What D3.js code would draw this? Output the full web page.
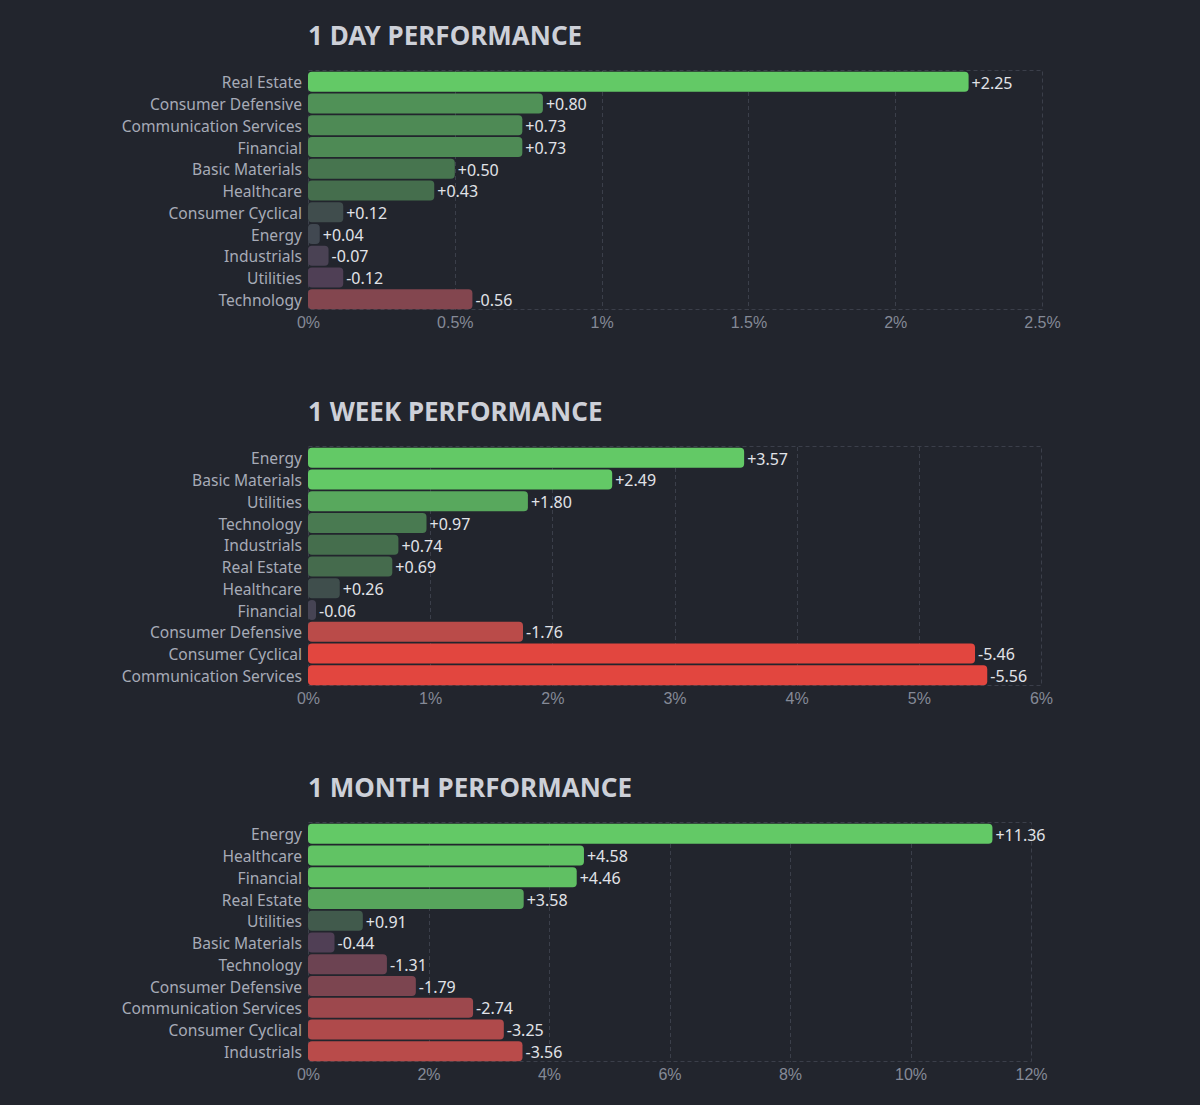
<!DOCTYPE html>
<html>
<head>
<meta charset="utf-8">
<script src="https://cdn.jsdelivr.net/npm/d3@7"></script>
<style>
  html, body { margin: 0; padding: 0; background: #22252d; }
  svg { display: block; font-family: "Noto Sans", sans-serif; }
  .title { fill: #cdd0d8; font-size: 26px; font-weight: 700; }
  .cat { fill: #a7abb7; font-size: 15.6px; }
  .val { fill: #e1e3e8; font-size: 16px; }
  .tick text { fill: #858a97; font-size: 16px; }
  .grid { stroke: #3b3f4a; stroke-width: 1; stroke-dasharray: 4 3; fill: none; }
</style>
</head>
<body>
<div id="chart"></div>
<script>
// 1 day
const dayCategories = ["Real Estate", "Consumer Defensive", "Communication Services", "Financial",
  "Basic Materials", "Healthcare", "Consumer Cyclical", "Energy", "Industrials", "Utilities", "Technology"];
const dayValues = [2.25, 0.80, 0.73, 0.73, 0.50, 0.43, 0.12, 0.04, -0.07, -0.12, -0.56];
const dayTicks = [0, 0.5, 1, 1.5, 2, 2.5];

// 1 week
const weekCategories = ["Energy", "Basic Materials", "Utilities", "Technology", "Industrials",
  "Real Estate", "Healthcare", "Financial", "Consumer Defensive", "Consumer Cyclical", "Communication Services"];
const weekValues = [3.57, 2.49, 1.80, 0.97, 0.74, 0.69, 0.26, -0.06, -1.76, -5.46, -5.56];
const weekTicks = [0, 1, 2, 3, 4, 5, 6];

// 1 month
const monthCategories = ["Energy", "Healthcare", "Financial", "Real Estate", "Utilities",
  "Basic Materials", "Technology", "Consumer Defensive", "Communication Services", "Consumer Cyclical", "Industrials"];
const monthValues = [11.36, 4.58, 4.46, 3.58, 0.91, -0.44, -1.31, -1.79, -2.74, -3.25, -3.56];
const monthTicks = [0, 2, 4, 6, 8, 10, 12];

const charts = [
  { title: "1 DAY PERFORMANCE", cats: dayCategories, vals: dayValues, ticks: dayTicks, top: 0, right: 1042, colorExtent: 3.2 },
  { title: "1 WEEK PERFORMANCE", cats: weekCategories, vals: weekValues, ticks: weekTicks, top: 376, right: 1041, colorExtent: 5.56 },
  { title: "1 MONTH PERFORMANCE", cats: monthCategories, vals: monthValues, ticks: monthTicks, top: 752, right: 1031, colorExtent: 11.36 }
];

const W = 1200, H = 1105;
const left = 308;

// colour by value relative to each chart's extent
const color = d3.scaleLinear()
  .domain([-0.42, -0.31, -0.16, -0.04, 0, 0.05, 0.13, 0.3, 0.42])
  .range(["#e2463f", "#b84b4a", "#7d4550", "#503f55", "#424653", "#3f4f4b", "#456d4d", "#55a05b", "#63c966"])
  .clamp(true);

const fmtVal = v => (v >= 0 ? "+" : "-") + Math.abs(v).toFixed(2);

const svg = d3.select("#chart").append("svg")
  .attr("width", W)
  .attr("height", H);

charts.forEach(c => {
  const g = svg.append("g").attr("transform", `translate(0,${c.top})`);
  const plotTop = 71, plotBottom = 310;

  const x = d3.scaleLinear()
    .domain([0, c.ticks[c.ticks.length - 1]])
    .range([left, c.right]);
  const y = d3.scaleBand()
    .domain(c.cats)
    .range([plotTop, plotBottom])
    .paddingInner(0.08)
    .paddingOuter(0.04);

  // Title
  g.append("text")
    .attr("class", "title")
    .attr("x", left).attr("y", 45)
    .text(c.title);

  // Frame + grid
  g.append("rect")
    .attr("class", "grid")
    .attr("x", left + 0.5).attr("y", plotTop - 0.5)
    .attr("width", c.right - left).attr("height", plotBottom - plotTop);
  g.selectAll(".vline")
    .data(c.ticks.slice(1, -1))
    .join("line")
    .attr("class", "grid")
    .attr("x1", d => Math.round(x(d)) + 0.5).attr("x2", d => Math.round(x(d)) + 0.5)
    .attr("y1", plotTop).attr("y2", plotBottom);

  // Bars
  const rows = c.cats.map((k, i) => ({ k, v: c.vals[i] }));
  const barW = d => Math.max(x(Math.abs(d.v)) - x(0), 8);
  g.selectAll(".bar")
    .data(rows)
    .join("rect")
    .attr("x", x(0))
    .attr("y", d => y(d.k))
    .attr("width", barW)
    .attr("height", y.bandwidth())
    .attr("rx", 4)
    .attr("fill", d => color(d.v / c.colorExtent));

  // Category labels
  g.selectAll(".cat")
    .data(rows)
    .join("text")
    .attr("class", "cat")
    .attr("x", left - 6)
    .attr("y", d => y(d.k) + y.bandwidth() / 2 + 1)
    .attr("dy", "0.36em")
    .attr("text-anchor", "end")
    .text(d => d.k);

  // Value labels
  g.selectAll(".val")
    .data(rows)
    .join("text")
    .attr("class", "val")
    .attr("x", d => x(0) + barW(d) + 3)
    .attr("y", d => y(d.k) + y.bandwidth() / 2 + 1)
    .attr("dy", "0.36em")
    .text(d => fmtVal(d.v));

  // Axis
  const axis = d3.axisBottom(x)
    .tickValues(c.ticks)
    .tickSize(0)
    .tickPadding(7)
    .tickFormat(d => d3.format("~g")(d) + "%");
  g.append("g")
    .attr("transform", `translate(0,${plotBottom})`)
    .call(axis)
    .call(a => a.select(".domain").remove())
    .selectAll("text")
    .attr("font-family", null)
    .attr("font-size", null);
});
</script>
</body>
</html>
